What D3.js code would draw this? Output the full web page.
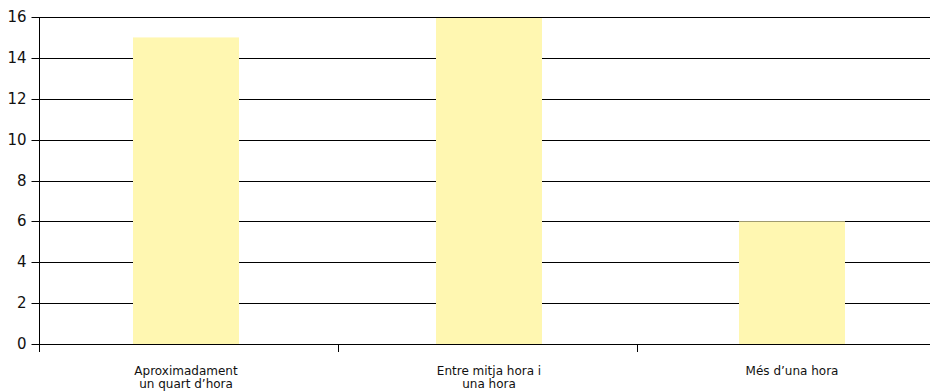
<!DOCTYPE html>
<html>
<head>
<meta charset="utf-8">
<script src="https://cdn.jsdelivr.net/npm/d3@7"></script>
<style>
  html, body { margin: 0; padding: 0; background: #fff; }
  svg { display: block; }
  text { font-family: "DejaVu Sans", Verdana, sans-serif; fill: #111; }
</style>
</head>
<body>
<svg id="chart" width="930" height="391"></svg>
<script>
// Time spent, grouped by duration
const categories = [
  ["Aproximadament", "un quart d\u2019hora"],
  ["Entre mitja hora i", "una hora"],
  ["M\u00e9s d\u2019una hora"]
];
const values = [15, 16, 6];
const yTicks = [0, 2, 4, 6, 8, 10, 12, 14, 16];

const svg = d3.select("#chart");
const margin = { left: 39, top: 17, bottom: 47 };
const W = 930, H = 391;

const keys = categories.map((c, i) => i);
// category tick marks sit on this scale's band edges
const xTick = d3.scaleBand().domain(keys).range([margin.left, 936]);
// bars and their labels are spaced slightly wider than the tick marks
const x = d3.scaleBand().domain(keys).range([34.5, 943.5]);
const y = d3.scaleLinear().domain([0, 16]).range([H - margin.bottom, margin.top]);

const barW = 106;
const cx = i => x(i) + x.bandwidth() / 2;

// horizontal gridlines
svg.append("g").selectAll("line").data(yTicks.filter(t => t > 0 && t < 16)).join("line")
  .attr("x1", margin.left).attr("x2", W)
  .attr("y1", d => Math.round(y(d)) + 0.5).attr("y2", d => Math.round(y(d)) + 0.5)
  .attr("stroke", "#000").attr("stroke-width", 1);

// bars
svg.append("g").selectAll("rect").data(values).join("rect")
  .attr("x", (d, i) => cx(i) - barW / 2)
  .attr("width", barW)
  .attr("y", d => y(d))
  .attr("height", d => y(0) - y(d))
  .attr("fill", "#fff7b1");

// top border of the plot area
svg.append("line")
  .attr("x1", margin.left).attr("x2", W)
  .attr("y1", Math.round(y(16)) + 0.5).attr("y2", Math.round(y(16)) + 0.5)
  .attr("stroke", "#000");

// y axis
const yAxis = svg.append("g")
  .attr("transform", `translate(${margin.left + 0.5},0)`)
  .call(d3.axisLeft(y).tickValues(yTicks).tickSize(8).tickPadding(5).tickSizeOuter(0));
yAxis.select(".domain").remove();
yAxis.selectAll(".tick line").attr("stroke", "#000");
yAxis.selectAll(".tick text").style("font-size", "15px").style("font-family", "\"DejaVu Sans\", Verdana, sans-serif").attr("fill", "#111");
yAxis.selectAll(".tick").attr("transform", d => `translate(0,${Math.round(y(d)) + 0.5})`);

svg.append("line")
  .attr("x1", margin.left + 0.5).attr("x2", margin.left + 0.5)
  .attr("y1", margin.top).attr("y2", Math.round(y(0)) + 8)
  .attr("stroke", "#000");

// x baseline
svg.append("line")
  .attr("x1", margin.left).attr("x2", W)
  .attr("y1", Math.round(y(0)) + 0.5).attr("y2", Math.round(y(0)) + 0.5)
  .attr("stroke", "#000");

// category tick marks at band boundaries
svg.append("g").selectAll("line").data(keys).join("line")
  .attr("x1", d => Math.round(xTick(d)) + 0.5).attr("x2", d => Math.round(xTick(d)) + 0.5)
  .attr("y1", Math.round(y(0))).attr("y2", Math.round(y(0)) + 8)
  .attr("stroke", "#000");

// category labels
const lab = svg.append("g").selectAll("text").data(categories).join("text")
  .attr("text-anchor", "middle")
  .style("font-size", "12px")
  .attr("transform", (d, i) => `translate(${cx(i)},${Math.round(y(0)) + 31})`);
lab.selectAll("tspan").data(d => d).join("tspan")
  .attr("x", 0).attr("dy", (d, j) => j === 0 ? 0 : 12.5)
  .text(d => d);
</script>
</body>
</html>
